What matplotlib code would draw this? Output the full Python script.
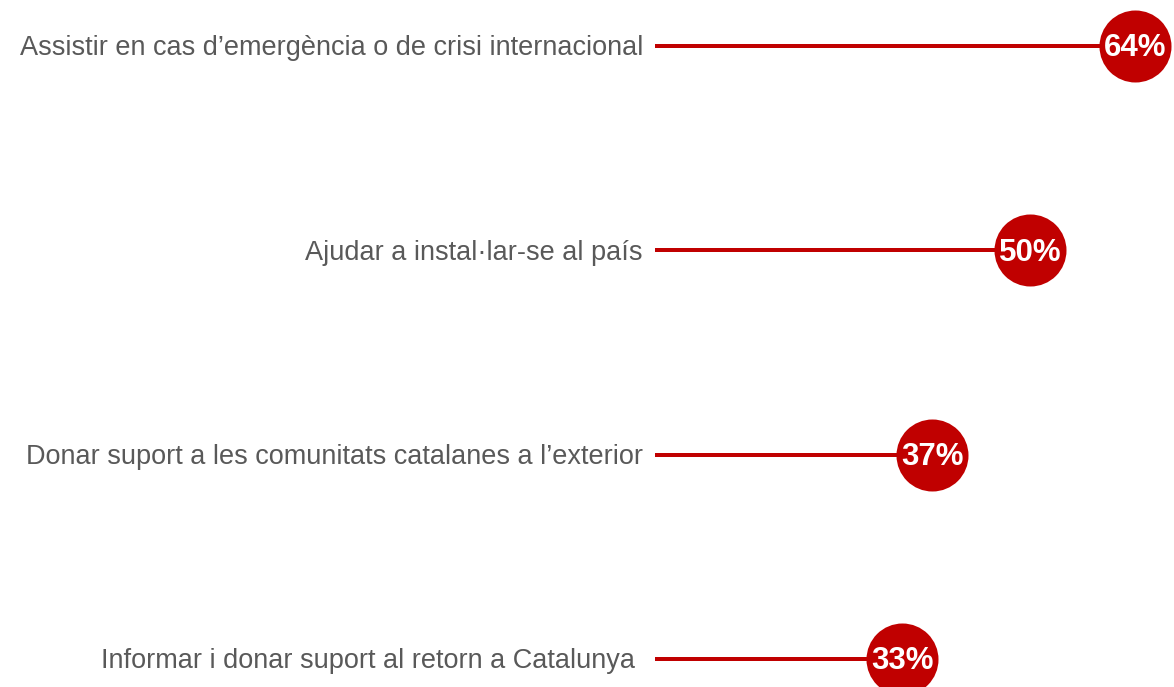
import matplotlib
matplotlib.use("Agg")
import matplotlib.pyplot as plt

categories = [
    "Assistir en cas d\u2019emergència o de crisi internacional",
    "Ajudar a instal\u00b7lar-se al país",
    "Donar suport a les comunitats catalanes a l\u2019exterior",
    "Informar i donar suport al retorn a Catalunya ",
]
values = [64, 50, 37, 33]
value_labels = ["64%", "50%", "37%", "33%"]

RED = "#C00000"
GRAY = "#595959"

W, H, DPI = 1174, 687, 100
fig = plt.figure(figsize=(W / DPI, H / DPI), dpi=DPI)
ax = fig.add_axes([0, 0, 1, 1])

px_per_unit_x = 7.5
x0_px = 655
ax.set_xlim(-x0_px / px_per_unit_x, (W - x0_px) / px_per_unit_x)
y_top_px, y_step_px = 46, 204.33
ax.set_ylim(3 + (H - (y_top_px + 3 * y_step_px)) / y_step_px, -y_top_px / y_step_px)
ax.axis("off")

ypos = list(range(len(categories)))
radius_pt = 36 * 72 / DPI
ax.hlines(ypos, 0, values, color=RED, linewidth=4 * 72 / DPI, zorder=1)
ax.scatter(values, ypos, s=(2 * radius_pt) ** 2, color=RED, zorder=2, linewidths=0)

for y, v, cat, lab in zip(ypos, values, categories, value_labels):
    ax.text(-12 / px_per_unit_x, y + 0.012, cat, ha="right", va="center",
            fontsize=19.5, color=GRAY, family="Liberation Sans")
    ax.text(v, y + 0.012, lab, ha="center", va="center", fontsize=22.5,
            color="white", fontweight="bold", family="Liberation Sans", zorder=3)

fig.savefig("out.png", dpi=DPI)
